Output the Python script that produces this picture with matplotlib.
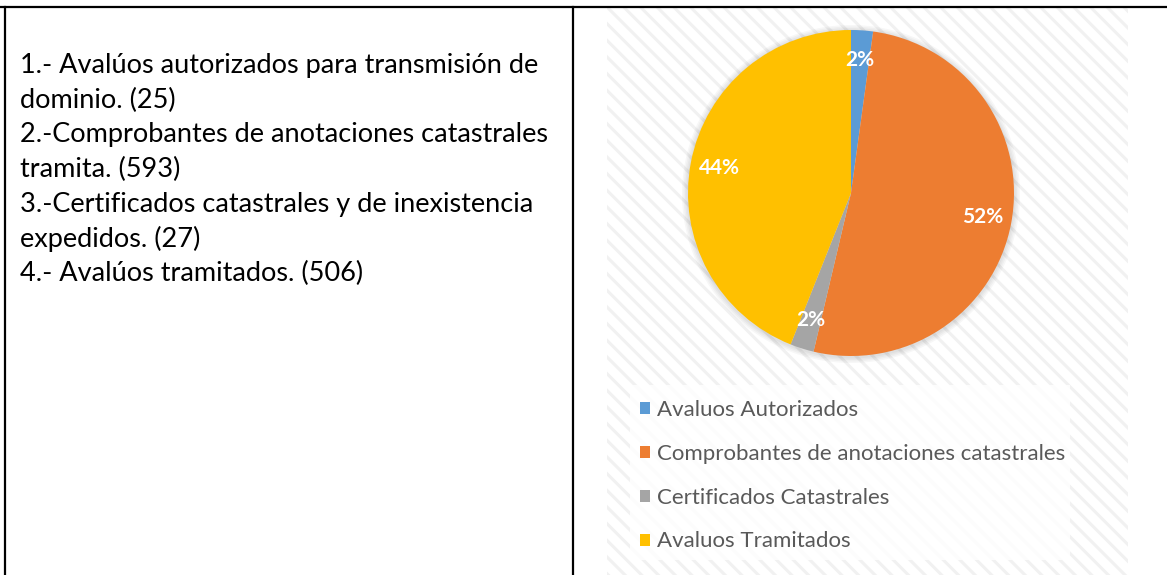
import matplotlib.pyplot as plt
from matplotlib.patches import Rectangle, Circle

# data
categories = ['Avaluos Autorizados', 'Comprobantes de anotaciones catastrales',
              'Certificados Catastrales', 'Avaluos Tramitados']
counts = [25, 593, 27, 506]
colors = ['#5B9BD5', '#ED7D31', '#A5A5A5', '#FFC000']

notes = [
    '1.- Avalúos autorizados para transmisión de',
    'dominio. (25)',
    '2.-Comprobantes de anotaciones catastrales',
    'tramita. (593)',
    '3.-Certificados catastrales y de inexistencia',
    'expedidos. (27)',
    '4.- Avalúos tramitados. (506)',
]

plt.rcParams['hatch.linewidth'] = 2.2

W, H = 1167, 575
fig = plt.figure(figsize=(W / 100, H / 100), dpi=100)

# background axes in pixel coordinates (table borders, notes)
bg = fig.add_axes([0, 0, 1, 1])
bg.set_xlim(0, W)
bg.set_ylim(H, 0)
bg.axis('off')

# chart area with light diagonal hatch
bg.add_patch(Rectangle((607, 8), 521, 567, facecolor='white',
                       edgecolor='#f1f1f1', hatch='\\\\', linewidth=0, zorder=1))
bg.add_patch(Rectangle((630, 385), 440, 175, facecolor='white', alpha=0.8,
                       edgecolor='none', zorder=2))

# soft shadow round the pie
for k in range(4):
    bg.add_patch(Circle((851, 194), 163 + 6 - k * 1.5, facecolor='black',
                        alpha=0.03, edgecolor='none', zorder=2))

# table lines
bg.plot([0, W], [7, 7], color='black', lw=1.6, zorder=5)
bg.plot([5, 5], [7, H], color='black', lw=1.6, zorder=5)
bg.plot([573, 573], [7, H], color='black', lw=1.6, zorder=5)

for i, line in enumerate(notes):
    bg.text(20, 73 + i * 34.7, line, fontsize=19.5, family='Lato',
            color='black', va='baseline', ha='left')

# pie
r = 163
cx, cy = 851, 193
pax = fig.add_axes([(cx - r) / W, 1 - (cy + r) / H, 2 * r / W, 2 * r / H])
wedges, texts, autotexts = pax.pie(counts, colors=colors, startangle=90,
                                   counterclock=False, autopct='%1.0f%%',
                                   pctdistance=0.82, radius=1,
                                   wedgeprops=dict(linewidth=0))
for t in autotexts:
    t.set_color('white')
    t.set_fontsize(15)
    t.set_fontweight('bold')
    t.set_family('Lato')
pax.set_xlim(-1, 1)
pax.set_ylim(-1, 1)
pax.set_aspect('equal')
pax.axis('off')

leg = bg.legend(wedges, categories, loc='upper left',
                bbox_to_anchor=(629, 389), bbox_transform=bg.transData,
                frameon=False, handlelength=0.45, handleheight=0.45,
                handletextpad=0.3, labelspacing=1.07, borderpad=0,
                prop=dict(family='Lato', size=16))
for t in leg.get_texts():
    t.set_color('#595959')
leg.set_zorder(6)

fig.savefig('out.png', dpi=100)
